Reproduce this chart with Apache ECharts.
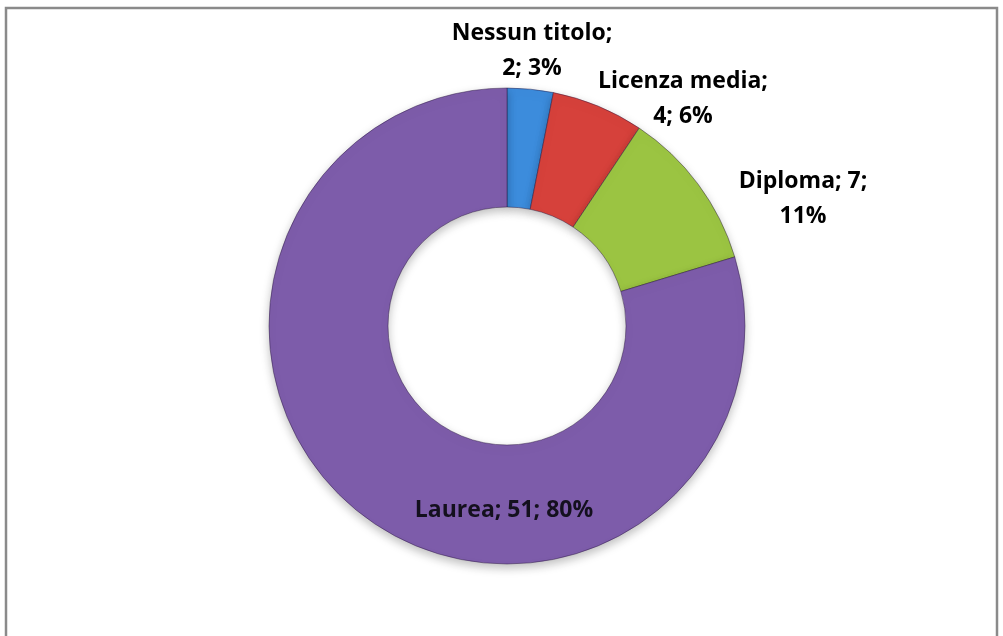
<!DOCTYPE html>
<html>
<head>
<meta charset="utf-8">
<script src="https://cdn.jsdelivr.net/npm/echarts@6/dist/echarts.min.js"></script>
<style>
html,body{margin:0;padding:0;background:#fff;}
#chart{width:1003px;height:636px;}
</style>
</head>
<body>
<div id="chart"></div>
<script>
// ---- data ----
const categories = ['Nessun titolo', 'Licenza media', 'Diploma', 'Laurea'];
const values = [2, 4, 7, 51];
const colors = ['#3C8CDC', '#D6413B', '#9BC442', '#7D5CAA'];
// where each label's line break goes: 'name' = after name, 'value' = after value, 'none'
const labelBreaks = ['name', 'name', 'value', 'none'];

// ---- layout ----
const CX = 507, CY = 326, R_OUT = 238, R_IN = 119;
// label block centres relative to the ring centre
const labelOffsets = [[25, -275], [176, -227], [296, -127], [-3, 184]];

const total = values.reduce((a, b) => a + b, 0);

const chart = echarts.init(document.getElementById('chart'), null, {renderer: 'canvas'});
chart.setOption({
  animation: false,
  backgroundColor: '#ffffff',
  graphic: [{
    type: 'rect',
    shape: {x: 6, y: 8, width: 991, height: 660},
    style: {fill: 'none', stroke: '#8a8a8a', lineWidth: 2.5},
    z: 0
  }],
  series: [{
    type: 'pie',
    center: [CX, CY],
    radius: [R_IN, R_OUT],
    startAngle: 90,
    clockwise: true,
    avoidLabelOverlap: false,
    itemStyle: {
      borderColor: 'rgba(40,20,60,0.45)',
      borderWidth: 1,
      shadowBlur: 10,
      shadowColor: 'rgba(0,0,0,0.25)',
      shadowOffsetY: 4
    },
    label: {
      show: true,
      position: 'outside',
      fontFamily: 'Open Sans',
      fontWeight: 'bold',
      fontSize: 23,
      lineHeight: 35,
      color: '#000',
      align: 'center',
      formatter: function (p) {
        const pct = Math.round(p.value / total * 100) + '%';
        const br = labelBreaks[p.dataIndex];
        if (br === 'name') return p.name + ';\n' + p.value + '; ' + pct;
        if (br === 'value') return p.name + '; ' + p.value + ';\n' + pct;
        return p.name + '; ' + p.value + '; ' + pct;
      }
    },
    labelLine: {show: false},
    labelLayout: function (p) {
      const o = labelOffsets[p.dataIndex];
      return {x: CX + o[0], y: CY + o[1], align: 'center', verticalAlign: 'middle'};
    },
    data: categories.map((c, i) => ({
      name: c,
      value: values[i],
      itemStyle: {color: colors[i]},
      label: i === 3 ? {color: '#14101e'} : {}
    }))
  }]
});
</script>
</body>
</html>
